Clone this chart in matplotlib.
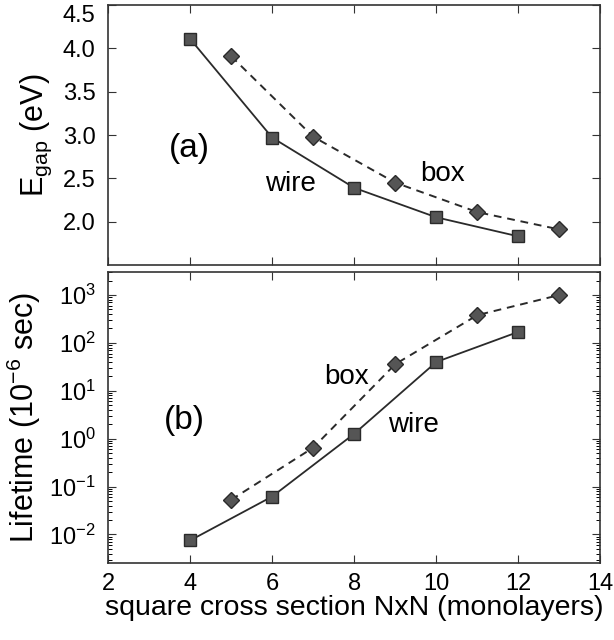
import matplotlib
matplotlib.use("Agg")
import matplotlib.pyplot as plt
from matplotlib.ticker import LogLocator, FixedLocator, NullFormatter

plt.rcParams['font.family'] = ['Liberation Sans', 'DejaVu Sans']
plt.rcParams['mathtext.fontset'] = 'custom'
plt.rcParams['mathtext.rm'] = 'Liberation Sans'
plt.rcParams['mathtext.it'] = 'Liberation Sans:italic'
plt.rcParams['mathtext.bf'] = 'Liberation Sans:bold'

# data
wire_n = [4, 6, 8, 10, 12]
box_n = [5, 7, 9, 11, 13]
wire_gap = [4.11, 2.97, 2.39, 2.05, 1.83]
box_gap = [3.91, 2.98, 2.45, 2.11, 1.91]
wire_life = [0.0075, 0.062, 1.27, 40, 170]
box_life = [0.053, 0.65, 36, 380, 1000]
x_ticks = [2, 4, 6, 8, 10, 12, 14]
gap_ticks = [2.0, 2.5, 3.0, 3.5, 4.0, 4.5]

fig = plt.figure(figsize=(6.14, 6.40), dpi=100)
ax1 = fig.add_axes([0.176, 0.586, 0.802, 0.406])
ax2 = fig.add_axes([0.176, 0.120, 0.802, 0.455])

fc = '#555555'
ec = '#2a2a2a'
lc = '#2a2a2a'
fs = 17

for ax in (ax1, ax2):
    ax.plot(wire_n, wire_gap if ax is ax1 else wire_life, '-', color=lc, lw=1.3,
            marker='s', ms=8, mfc=fc, mec=ec, mew=1.0)
    ax.plot(box_n, box_gap if ax is ax1 else box_life, '--', color=lc, lw=1.4,
            dashes=(4, 3), marker='D', ms=8, mfc=fc, mec=ec, mew=1.0)
    ax.set_xlim(2, 14)
    ax.xaxis.set_major_locator(FixedLocator(x_ticks))
    ax.tick_params(direction='in', top=True, right=True, labelsize=fs, length=6,
                   width=0.8, color='#333333', pad=7)
    ax.tick_params(axis='y', pad=9)
    ax.tick_params(which='minor', direction='in', right=True, left=True, length=3, width=0.7)
    for s in ax.spines.values():
        s.set_linewidth(1.2)
        s.set_color('#333333')

ax1.set_ylim(1.5, 4.5)
ax1.yaxis.set_major_locator(FixedLocator(gap_ticks))
ax1.set_yticklabels(['%.1f' % t for t in gap_ticks])
ax1.get_yticklabels()[-1].set_verticalalignment('top')
ax1.tick_params(labelbottom=False)
ax1.set_ylabel(r'E$_{\mathrm{gap}}$ (eV)', fontsize=22, labelpad=6)

ax2.set_yscale('log')
ax2.set_ylim(10**-2.6, 10**3.48)
ax2.yaxis.set_major_locator(LogLocator(base=10, numticks=20))
ax2.yaxis.set_minor_locator(LogLocator(base=10, subs=(2, 3, 4, 5, 6, 7, 8, 9), numticks=20))
ax2.yaxis.set_minor_formatter(NullFormatter())
ax2.set_ylabel(r'Lifetime (10$^{-6}$ sec)', fontsize=22, labelpad=4)
ax2.set_xlabel('square cross section NxN (monolayers)', fontsize=20.5, labelpad=0)

ax1.text(0.165, 0.45, '(a)', transform=ax1.transAxes, fontsize=24, ha='center', va='center')
ax1.text(0.37, 0.31, 'wire', transform=ax1.transAxes, fontsize=20, ha='center', va='center')
ax1.text(0.68, 0.35, 'box', transform=ax1.transAxes, fontsize=20, ha='center', va='center')
ax2.text(0.155, 0.49, '(b)', transform=ax2.transAxes, fontsize=24, ha='center', va='center')
ax2.text(0.485, 0.64, 'box', transform=ax2.transAxes, fontsize=20, ha='center', va='center')
ax2.text(0.62, 0.475, 'wire', transform=ax2.transAxes, fontsize=20, ha='center', va='center')

fig.savefig('out.png', dpi=100)
